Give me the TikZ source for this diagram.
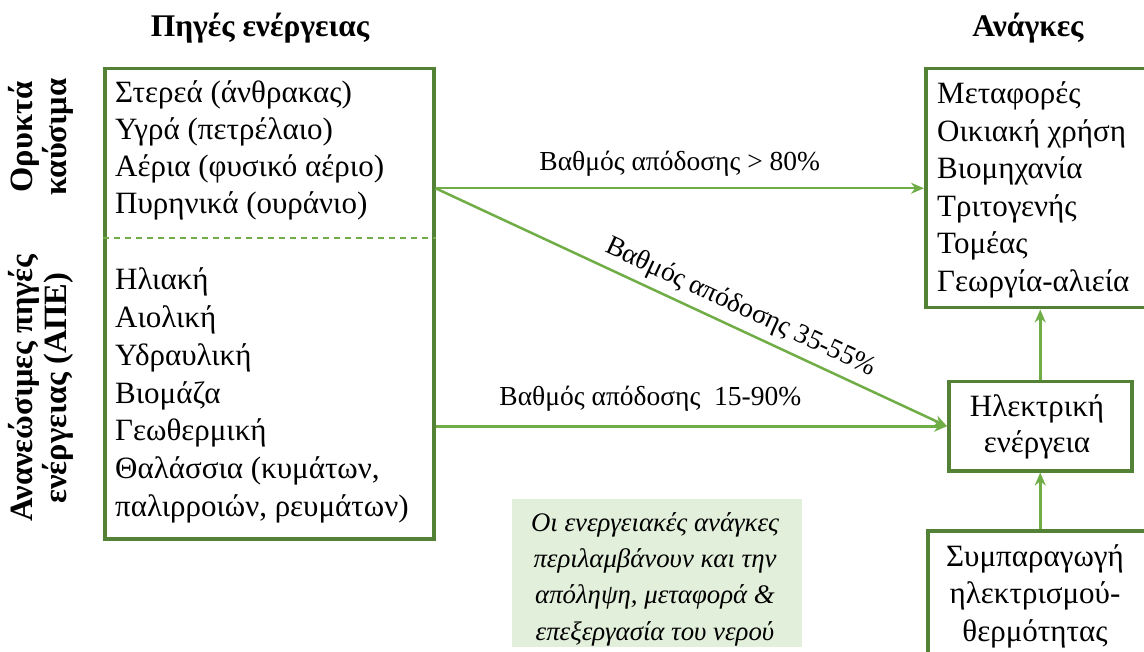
\documentclass[tikz,border=0pt]{standalone}
\usepackage{fontspec}
\setmainfont{Liberation Serif}
\usetikzlibrary{arrows.meta}
\definecolor{boxgreen}{HTML}{538135}
\definecolor{arrgreen}{HTML}{70AD47}
\definecolor{notefill}{HTML}{E2EFDA}
\begin{document}
\begin{tikzpicture}[x=1pt,y=-1pt,
  box/.style={draw=boxgreen, line width=3.5pt, inner sep=0pt},
  conn/.style={draw=arrgreen, line width=2.5pt, -{Stealth[length=13pt,width=11pt]}},
  txt/.style={font=\fontsize{31}{37.5}\selectfont, inner sep=0pt},
  lbl/.style={font=\fontsize{27.5}{30}\selectfont, inner sep=0pt},
  ttl/.style={font=\fontsize{31.5}{34}\selectfont\bfseries, inner sep=0pt},
  side/.style={font=\fontsize{32.5}{34}\selectfont\bfseries, inner sep=0pt, rotate=90, align=center}]
\useasboundingbox (0,0) rectangle (1144,652);
% titles
\node[ttl, anchor=base] (t1) at (260,37) {Πηγές ενέργειας};
\node[ttl, anchor=base] (t2) at (1028,37) {Ανάγκες};
% side labels
\node[side] (s1) at (41,137) {Ορυκτά\\καύσιμα};
\node[side] (s2) at (41,388) {Ανανεώσιμες πηγές\\ενέργειας (ΑΠΕ)};
% source box
\node[box, anchor=north west, minimum width=329pt, minimum height=470pt] (src) at (103,67) {};
\draw[arrgreen, line width=1.5pt, dash pattern=on 6pt off 5pt] (src.west |- 0,238) -- (src.east |- 0,238);
\foreach \t [count=\i] in {Στερεά (άνθρακας), Υγρά (πετρέλαιο), Αέρια (φυσικό αέριο), Πυρηνικά (ουράνιο)}
  \node[txt, anchor=base west] (f\i) at (115,{103+37*(\i-1)}) {\t};
\foreach \t [count=\i] in {Ηλιακή, Αιολική, Υδραυλική, Βιομάζα, Γεωθερμική, {Θαλάσσια (κυμάτων,}, {παλιρροιών, ρευμάτων)}}
  \node[txt, anchor=base west] (r\i) at (115,{290+37.7*(\i-1)}) {\t};
% right boxes (cut by the page edge)
\begin{scope}
\clip (0,0) rectangle (1144,652);
\node[box, anchor=north west, minimum width=240pt, minimum height=239pt] (needs) at (924,67) {};
\node[box, anchor=north west, minimum width=240pt, minimum height=160pt] (cogen) at (926,529) {};
\end{scope}
\foreach \t [count=\i] in {Μεταφορές, Οικιακή χρήση, Βιομηχανία, Τριτογενής, Τομέας, Γεωργία-αλιεία}
  \node[txt, anchor=base west] (n\i) at (937,{104+37.5*(\i-1)}) {\t};
\node[box, anchor=north west, minimum width=183pt, minimum height=89pt] (elec) at (947,380) {};
\node[txt, anchor=base] (e1) at (1037,417) {Ηλεκτρική};
\node[txt, anchor=base] (e2) at (1037,452) {ενέργεια};
\node[txt, anchor=base] (c1) at (1035,566) {Συμπαραγωγή};
\node[txt, anchor=base] (c2) at (1035,603.5) {ηλεκτρισμού-};
\node[txt, anchor=base] (c3) at (1035,641) {θερμότητας};
% note
\node[fill=notefill, anchor=north west, minimum width=290pt, minimum height=148pt, inner sep=0pt] (note) at (512,499) {};
\node[font=\fontsize{26.8}{36.3}\selectfont\itshape, align=center, inner sep=0pt, anchor=base] (nt) at (655,640) {Οι ενεργειακές ανάγκες\\περιλαμβάνουν και την\\απόληψη, μεταφορά \&\\επεξεργασία του νερού};
% connectors
\draw[conn] (src.east |- needs.west) -- node[lbl, above=11pt, pos=0.5] (l1) {Βαθμός απόδοσης > 80\%} (needs.west);
\draw[conn] (src.east |- needs.west) -- node[lbl, sloped, above=6.5pt, pos=0.58] (l2) {Βαθμός απόδοσης 35-55\%} (elec.west);
\draw[conn] (src.east |- elec.west) -- node[lbl, above=13.5pt, pos=0.42] (l3) {Βαθμός απόδοσης\ \ 15-90\%} (elec.west);
\draw[conn] (elec.north) -- (elec.north |- needs.south);
\draw[conn] (elec.south |- cogen.north) -- (elec.south);
\end{tikzpicture}
\end{document}
